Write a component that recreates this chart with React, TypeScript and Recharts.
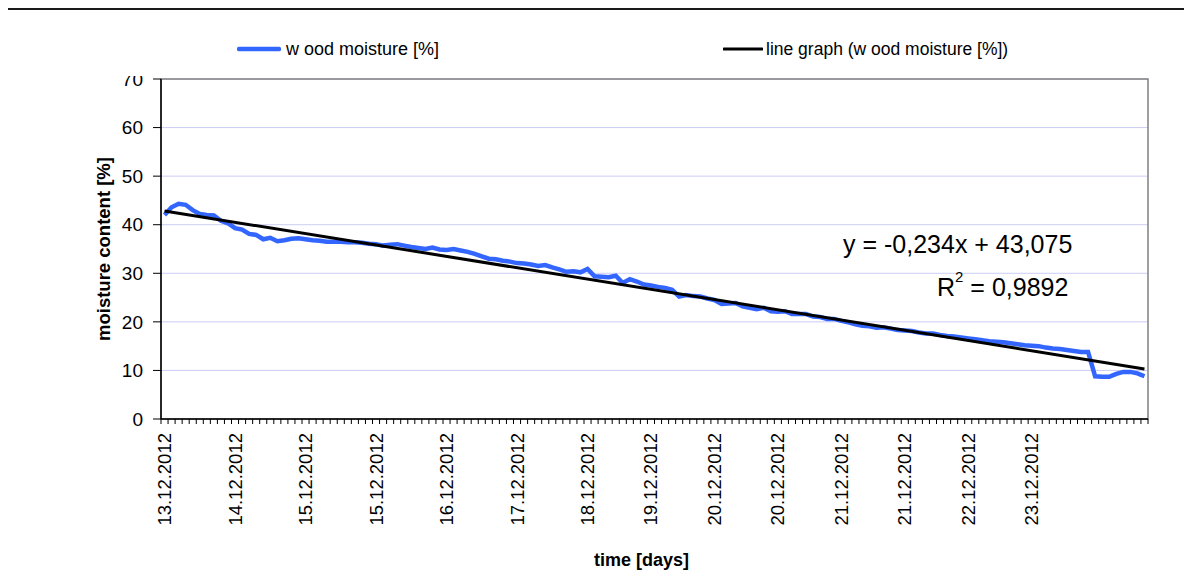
import React from 'react';
import { ComposedChart, Line, XAxis, YAxis, CartesianGrid, ReferenceArea, Label } from 'recharts';

// wood moisture [%] readings, one per category
const moisture = [
  42.0, 43.6, 44.3, 44.1, 43.0, 42.2, 42.0, 41.9, 40.8, 40.3,
  39.3, 39.0, 38.1, 37.9, 37.0, 37.3, 36.6, 36.8, 37.1, 37.2,
  37.0, 36.8, 36.7, 36.5, 36.5, 36.5, 36.4, 36.4, 36.3, 36.1,
  36.0, 35.7, 35.9, 36.0, 35.7, 35.4, 35.2, 35.0, 35.3, 34.9,
  34.8, 35.0, 34.7, 34.4, 34.0, 33.5, 33.0, 32.9, 32.6, 32.4,
  32.1, 32.0, 31.8, 31.5, 31.7, 31.2, 30.8, 30.3, 30.4, 30.2,
  30.9, 29.4, 29.3, 29.2, 29.5, 28.0, 28.8, 28.3, 27.7, 27.5,
  27.2, 27.0, 26.6, 25.2, 25.5, 25.3, 25.2, 24.8, 24.5, 23.7,
  23.8, 23.9, 23.2, 22.9, 22.6, 22.9, 22.2, 22.1, 22.2, 21.6,
  21.6, 21.6, 21.1, 21.0, 20.6, 20.6, 20.2, 19.9, 19.5, 19.2,
  19.1, 18.8, 18.9, 18.6, 18.3, 18.2, 18.1, 17.8, 17.6, 17.6,
  17.3, 17.1, 17.0, 16.8, 16.6, 16.4, 16.2, 16.0, 15.9, 15.8,
  15.6, 15.4, 15.2, 15.1, 15.0, 14.7, 14.5, 14.4, 14.2, 14.0,
  13.8, 13.8, 8.8, 8.7, 8.7, 9.3, 9.7, 9.7, 9.4, 8.8,
];

// category labels shown on the x axis and the category they sit on
const tickLabelIndex = [0, 10, 20, 30, 40, 50, 60, 69, 78, 87, 96, 105, 114, 123];
const tickLabels = [
  '13.12.2012', '14.12.2012', '15.12.2012', '15.12.2012', '16.12.2012', '17.12.2012', '18.12.2012',
  '19.12.2012', '20.12.2012', '20.12.2012', '21.12.2012', '21.12.2012', '22.12.2012', '23.12.2012',
];
const yTicks = [0, 10, 20, 30, 40, 50, 60, 70];

// linear trendline shown on the chart
const trendSlope = -0.234;
const trendIntercept = 43.075;
const equationText = 'y = -0,234x + 43,075';
const rSquaredText = '0,9892';

const seriesName = 'w ood moisture [%]';
const trendName = 'line graph (w ood moisture [%])';

const N = moisture.length;
const data = moisture.map((v, i) => ({ idx: i, moisture: v }));
const trendData = [
  { idx: 0, trend: trendSlope * 1 + trendIntercept },
  { idx: N - 1, trend: trendSlope * N + trendIntercept },
];
const boundaries = Array.from({ length: N + 1 }, (_, k) => k - 0.5);

const FONT = '"Liberation Sans", Arial, sans-serif';
const BLUE = '#3366FF';
const FRAME = '#1a1a1a';

const DateTick = (props: any) => {
  const { x, y, payload } = props;
  const k = tickLabelIndex.indexOf(payload.value);
  if (k < 0) return null;
  return (
    <text
      x={x}
      y={y + 4}
      transform={`rotate(-90, ${x}, ${y + 4})`}
      textAnchor="end"
      dominantBaseline="central"
      fontSize={18.5}
      fontFamily={FONT}
      fill="#000"
    >
      {tickLabels[k]}
    </text>
  );
};

export default function App() {
  return (
    <div
      style={{
        position: 'relative',
        width: 1184,
        height: 570,
        marginLeft: -2,
        marginBottom: -8,
        overflow: 'hidden',
        background: '#fff',
        fontFamily: FONT,
        boxSizing: 'border-box',
        borderTop: `2px solid ${FRAME}`,
        borderLeft: `2px solid ${FRAME}`,
        borderRight: `2px solid ${FRAME}`,
      }}
    >
      <svg
        width={1184}
        height={570}
        style={{ position: 'absolute', left: -2, top: -2, pointerEvents: 'none' }}
      >
        <rect x={1} y={1} width={1182} height={600} fill="none" stroke={FRAME} strokeWidth={2} />
      </svg>

      <div style={{ position: 'absolute', left: 0, top: 0, width: 1180, height: 590 }}>
        <ComposedChart
          width={1180}
          height={590}
          data={data}
          margin={{ top: 69, right: 40, left: 93, bottom: 31 }}
        >
          <CartesianGrid xAxisId="a" vertical={false} stroke="#ccccf5" strokeWidth={1} />
          <ReferenceArea
            xAxisId="a"
            x1={-0.5}
            x2={N - 0.5}
            y1={0}
            y2={70}
            fill="none"
            stroke="#808080"
            strokeWidth={1.5}
            ifOverflow="visible"
          />
          <XAxis
            xAxisId="b"
            dataKey="idx"
            type="number"
            domain={[-0.5, N - 0.5]}
            ticks={tickLabelIndex}
            interval={0}
            tick={<DateTick />}
            tickSize={0}
            tickMargin={0}
            height={140}
            axisLine={false}
            tickLine={false}
            allowDataOverflow
          >
            <Label
              content={(p: any) => {
                const vb = p.viewBox || { x: 0, y: 0, width: 0, height: 0 };
                return (
                  <text
                    x={vb.x + vb.width / 2 - 13}
                    y={vb.y + 131}
                    textAnchor="middle"
                    dominantBaseline="central"
                    fontSize={18}
                    fontWeight="bold"
                    fontFamily={FONT}
                    fill="#000"
                  >
                    time [days]
                  </text>
                );
              }}
            />
          </XAxis>
          <XAxis
            xAxisId="a"
            dataKey="idx"
            type="number"
            domain={[-0.5, N - 0.5]}
            ticks={boundaries}
            interval={0}
            tickFormatter={() => ''}
            tickSize={5}
            tickMargin={0}
            height={10}
            stroke="#000"
            axisLine={{ stroke: '#000', strokeWidth: 1.5 }}
            tickLine={{ stroke: '#000', strokeWidth: 1 }}
            allowDataOverflow
          />
          <YAxis
            domain={[0, 70]}
            ticks={yTicks}
            interval={0}
            width={60}
            tickSize={8}
            tickMargin={10}
            tick={{ fontSize: 19, fill: '#000', fontFamily: FONT }}
            axisLine={{ stroke: '#000', strokeWidth: 1.5 }}
            tickLine={{ stroke: '#000', strokeWidth: 1 }}
            allowDataOverflow
          >
            <Label
              content={(p: any) => {
                const vb = p.viewBox || { x: 0, y: 0, width: 0, height: 0 };
                const cx = vb.x + vb.width / 2 - 28;
                const cy = vb.y + vb.height / 2;
                return (
                  <text
                    x={cx}
                    y={cy}
                    transform={`rotate(-90, ${cx}, ${cy})`}
                    textAnchor="middle"
                    dominantBaseline="central"
                    fontSize={18.5}
                    fontWeight="bold"
                    fontFamily={FONT}
                    fill="#000"
                  >
                    moisture content [%]
                  </text>
                );
              }}
            />
          </YAxis>
          <Line
            xAxisId="a"
            type="linear"
            dataKey="moisture"
            stroke={BLUE}
            strokeWidth={4.5}
            dot={false}
            activeDot={false}
            isAnimationActive={false}
          />
          <Line
            xAxisId="a"
            data={trendData}
            type="linear"
            dataKey="trend"
            stroke="#000"
            strokeWidth={3}
            dot={false}
            activeDot={false}
            isAnimationActive={false}
          />
        </ComposedChart>

        {/* legend (white box, overlaps top of the axis as in the original) */}
        <div
          style={{
            position: 'absolute',
            left: 100,
            top: 0,
            width: 1000,
            height: 66,
            background: '#fff',
          }}
        >
          <div style={{ position: 'absolute', left: 129, top: 30, display: 'flex', alignItems: 'center', height: 18 }}>
            <svg width={44} height={8} style={{ display: 'block' }}>
              <line x1={2} y1={4} x2={42} y2={4} stroke={BLUE} strokeWidth={4.5} strokeLinecap="round" />
            </svg>
            <span style={{ fontSize: 18, lineHeight: '18px', marginLeft: 5, whiteSpace: 'nowrap', color: '#000' }}>
              {seriesName}
            </span>
          </div>
          <div style={{ position: 'absolute', left: 615, top: 30, display: 'flex', alignItems: 'center', height: 18 }}>
            <svg width={40} height={8} style={{ display: 'block' }}>
              <line x1={1} y1={4} x2={39} y2={4} stroke="#000" strokeWidth={3} strokeLinecap="round" />
            </svg>
            <span style={{ fontSize: 17.5, lineHeight: '18px', marginLeft: 3, whiteSpace: 'nowrap', color: '#000' }}>
              {trendName}
            </span>
          </div>
        </div>

        {/* trendline equation */}
        <div
          style={{
            position: 'absolute',
            left: 835,
            top: 222,
            fontSize: 25,
            lineHeight: '25px',
            whiteSpace: 'nowrap',
            color: '#000',
          }}
        >
          {equationText}
        </div>
        <div
          style={{
            position: 'absolute',
            left: 929,
            top: 265,
            fontSize: 25,
            lineHeight: '25px',
            whiteSpace: 'nowrap',
            color: '#000',
          }}
        >
          R<sup style={{ fontSize: 15, verticalAlign: 'top', lineHeight: '15px', position: 'relative', top: -6 }}>2</sup> = {rSquaredText}
        </div>
      </div>
    </div>
  );
}
